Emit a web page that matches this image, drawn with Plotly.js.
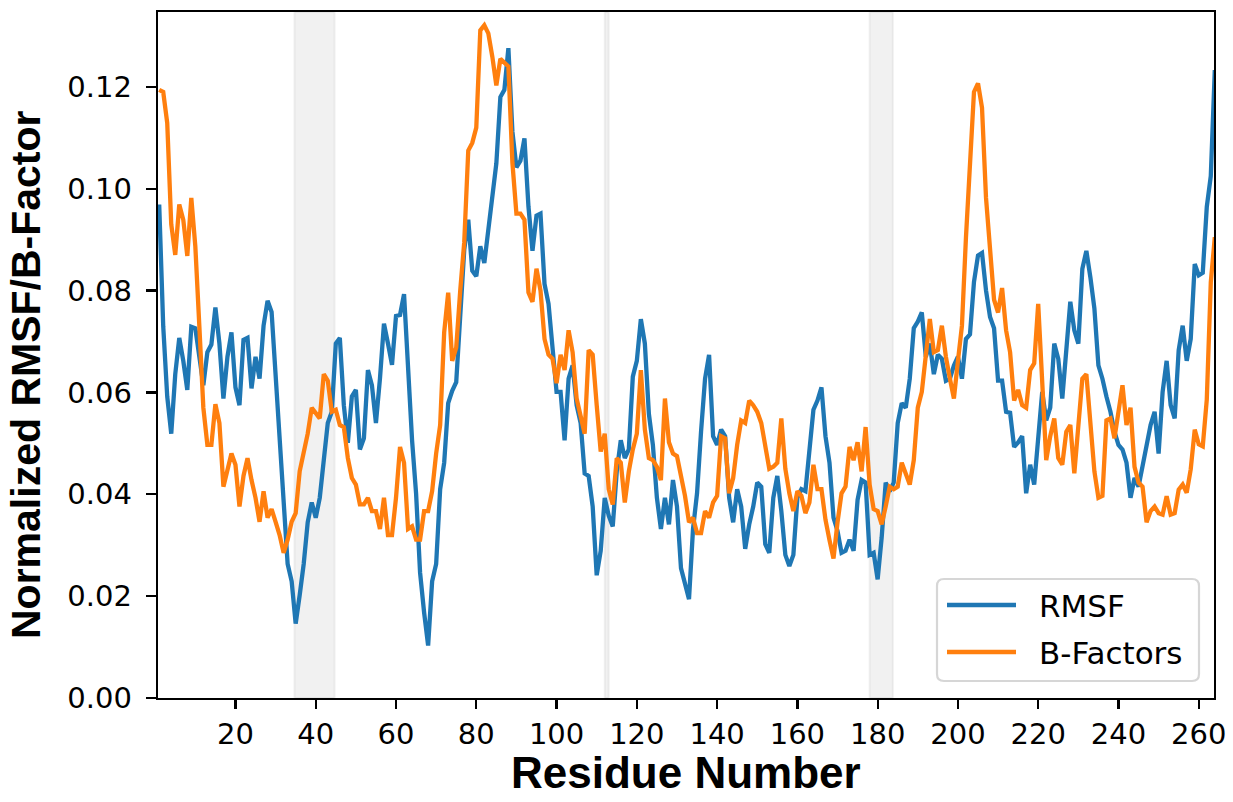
<!DOCTYPE html>
<html>
<head>
<meta charset="utf-8">
<script src="https://cdn.plot.ly/plotly-3.0.1.min.js"></script>
<style>html,body{margin:0;padding:0;background:#fff;}#chart{width:1233px;height:802px;}</style>
</head>
<body>
<div id="chart"></div>
<script>
// Residue numbers 1..264
const residues = Array.from({length: 264}, (_, i) => i + 1);

// Normalized RMSF (blue)
const rmsf = [
0.0969,0.073,0.0592,0.0519,0.0636,0.0707,0.0662,0.0605,0.0729,0.0726,
0.067,0.0614,0.0679,0.0694,0.0767,0.0696,0.0588,0.067,0.0718,0.061,
0.0575,0.0703,0.0707,0.0608,0.067,0.0627,0.0731,0.078,0.0758,0.0636,
0.0501,0.0367,0.0263,0.0229,0.0146,0.0202,0.0263,0.0345,0.0384,0.0354,
0.0393,0.0467,0.054,0.0562,0.0696,0.0707,0.0575,0.0501,0.0592,0.0605,
0.0488,0.051,0.0644,0.0614,0.054,0.0627,0.0735,0.0696,0.0654,0.075,
0.0752,0.0793,0.0644,0.0506,0.0402,0.0246,0.0168,0.0103,0.0229,0.0263,
0.041,0.0462,0.0579,0.0603,0.062,0.074,0.088,0.0939,0.0839,0.0828,
0.0887,0.0854,0.092,0.1,0.105,0.118,0.1194,0.1276,0.1112,0.1042,
0.1055,0.1099,0.0965,0.0878,0.0947,0.0951,0.0813,0.0774,0.0696,0.0601,
0.0601,0.0506,0.0627,0.0653,0.0575,0.054,0.0441,0.0436,0.0376,0.0241,
0.0289,0.0393,0.0358,0.0337,0.0445,0.0506,0.0471,0.0488,0.0631,0.0662,
0.0744,0.0696,0.0558,0.0497,0.0393,0.0332,0.0393,0.0341,0.0428,0.0376,
0.0255,0.022,0.0194,0.0332,0.0402,0.0523,0.0627,0.0674,0.0514,0.0497,
0.0527,0.0514,0.0393,0.0345,0.041,0.0376,0.0293,0.0341,0.0376,0.0423,
0.0415,0.0302,0.0285,0.0393,0.0436,0.0367,0.0281,0.0259,0.0281,0.0393,
0.041,0.0406,0.0488,0.0566,0.0584,0.061,0.0514,0.0462,0.0354,0.0328,
0.0285,0.0289,0.0311,0.0289,0.0389,0.0428,0.0423,0.0281,0.0285,0.0233,
0.0315,0.0423,0.0406,0.0423,0.054,0.0579,0.057,0.0627,0.0726,0.0739,
0.0757,0.067,0.0696,0.0636,0.0674,0.0666,0.0623,0.0627,0.0653,0.067,
0.0627,0.0705,0.0714,0.0817,0.0869,0.0874,0.08,0.0748,0.0726,0.0623,
0.0623,0.0562,0.056,0.0493,0.0502,0.0514,0.0402,0.0458,0.0419,0.0506,
0.0601,0.0545,0.057,0.0696,0.0666,0.0588,0.0688,0.0778,0.0722,0.0696,
0.0843,0.0878,0.0826,0.0765,0.0653,0.0627,0.0592,0.0562,0.0523,0.0497,
0.0488,0.0462,0.0393,0.0432,0.0415,0.0454,0.0497,0.0536,0.0562,0.048,
0.0601,0.0662,0.0575,0.0549,0.0683,0.0731,0.0662,0.0705,0.0852,0.083,
0.0835,0.0964,0.1025,0.1233
];

// Normalized B-factors (orange)
const bfactors = [
0.1194,0.119,0.1129,0.093,0.087,0.0969,0.0939,0.0868,0.0982,0.0887,
0.073,0.057,0.0497,0.0497,0.0577,0.054,0.0415,0.0445,0.048,0.0458,
0.0376,0.0436,0.0471,0.0428,0.0393,0.0346,0.0406,0.0354,0.0371,0.0346,
0.032,0.0285,0.0311,0.0346,0.0363,0.0445,0.048,0.0519,0.057,0.056,
0.0549,0.0636,0.0623,0.0562,0.0566,0.0536,0.0532,0.0471,0.0432,0.0419,
0.038,0.038,0.0393,0.0367,0.0367,0.0332,0.0393,0.032,0.032,0.0393,
0.0493,0.0462,0.0332,0.0337,0.0311,0.0311,0.0367,0.0367,0.0406,0.048,
0.0536,0.0718,0.0796,0.0662,0.0688,0.08,0.0895,0.1075,0.109,0.112,
0.1311,0.1321,0.1305,0.1259,0.1203,0.1255,0.1246,0.124,0.1051,0.0951,
0.0951,0.0939,0.0796,0.0778,0.0843,0.08,0.0705,0.0674,0.0666,0.0618,
0.0674,0.0644,0.0722,0.0679,0.0588,0.0549,0.0519,0.0683,0.0674,0.0575,
0.0484,0.0519,0.041,0.038,0.0471,0.0462,0.0384,0.0445,0.0488,0.0519,
0.0644,0.0527,0.0471,0.0467,0.0454,0.0428,0.0588,0.0502,0.048,0.0475,
0.0436,0.0397,0.0345,0.0354,0.0324,0.0324,0.0367,0.0354,0.0384,0.0397,
0.0514,0.051,0.0402,0.0432,0.0497,0.0545,0.054,0.0584,0.0575,0.0562,
0.054,0.0497,0.045,0.0454,0.0462,0.0549,0.045,0.0402,0.0367,0.0406,
0.0397,0.0363,0.0384,0.0458,0.041,0.041,0.035,0.031,0.0274,0.0345,
0.0402,0.0415,0.0493,0.0467,0.0502,0.0445,0.0532,0.0419,0.0371,0.0367,
0.0341,0.0376,0.0415,0.041,0.0415,0.0462,0.0441,0.0419,0.0467,0.057,
0.0601,0.0683,0.0744,0.0679,0.0683,0.0731,0.067,0.0627,0.0588,0.0662,
0.0731,0.0904,0.1064,0.119,0.1207,0.1159,0.0982,0.0882,0.0782,0.0757,
0.0805,0.0722,0.0679,0.0584,0.0605,0.0575,0.057,0.0644,0.0657,0.0774,
0.0636,0.0467,0.0514,0.0549,0.0471,0.0458,0.0523,0.0536,0.0441,0.0545,
0.0627,0.0636,0.0545,0.0445,0.0393,0.0397,0.0545,0.0549,0.051,0.057,
0.0614,0.0536,0.057,0.0454,0.0423,0.0415,0.0345,0.0367,0.0376,0.0363,
0.036,0.0396,0.036,0.0363,0.0409,0.0419,0.0403,0.0449,0.0527,0.0498,
0.0494,0.0586,0.0816,0.0905
];

const seriesNames = ['RMSF', 'B-Factors'];
const seriesColors = ['#1f77b4', '#ff7f0e'];

// Highlighted residue ranges (grey bands)
const bandStarts = [34.7, 112.0, 178.0];
const bandEnds   = [44.7, 113.0, 183.8];

const xTicks = [20,40,60,80,100,120,140,160,180,200,220,240,260];
const yTicks = [0,0.02,0.04,0.06,0.08,0.10,0.12];

// ---- geometry helpers (plot area in pixels) ----
const W = 1233, H = 802, L = 158, R = 19, T = 12, B = 104;
const PW = W - L - R, PH = H - T - B;
const px = v => (v - L) / PW;          // pixel x -> paper x
const py = v => (H - B - v) / PH;      // pixel y -> paper y

const tickFont = {family: 'DejaVu Sans, sans-serif', size: 29, color: '#000'};
const titleFontX = {family: 'Liberation Sans, Arial, sans-serif', size: 44, color: '#000', weight: 'bold'};
const titleFontY = {family: 'Liberation Sans, Arial, sans-serif', size: 41, color: '#000', weight: 'bold'};
const legendFont = {family: 'DejaVu Sans, sans-serif', size: 31, color: '#000'};

const traces = [
  {x: residues, y: rmsf, type: 'scatter', mode: 'lines', name: seriesNames[0],
   line: {color: seriesColors[0], width: 4.3}},
  {x: residues, y: bfactors, type: 'scatter', mode: 'lines', name: seriesNames[1],
   line: {color: seriesColors[1], width: 4.3}}
];

const shapes = bandStarts.map((s, i) => ({
  type: 'rect', xref: 'x', yref: 'paper', x0: s, x1: bandEnds[i], y0: 0, y1: 1,
  fillcolor: 'rgba(150,150,150,0.13)', line: {color: 'rgba(150,150,150,0.12)', width: 2},
  layer: 'below'
}));

// Legend box (rounded) drawn as a shape
const bx0 = px(937), bx1 = px(1199), by0 = py(681), by1 = py(579);
const rx = 7 / PW, ry = 7 / PH;
shapes.push({
  type: 'path', xref: 'paper', yref: 'paper',
  path: `M ${bx0+rx},${by0} L ${bx1-rx},${by0} Q ${bx1},${by0} ${bx1},${by0+ry} L ${bx1},${by1-ry} Q ${bx1},${by1} ${bx1-rx},${by1} L ${bx0+rx},${by1} Q ${bx0},${by1} ${bx0},${by1-ry} L ${bx0},${by0+ry} Q ${bx0},${by0} ${bx0+rx},${by0} Z`,
  fillcolor: 'rgba(255,255,255,0.9)', line: {color: '#d6d6d6', width: 2.2}, layer: 'above'
});
const legendRows = [605, 652];
const annotations = [];
seriesNames.forEach((n, i) => {
  shapes.push({type: 'line', xref: 'paper', yref: 'paper', x0: px(947), x1: px(1016),
    y0: py(legendRows[i]), y1: py(legendRows[i]), line: {color: seriesColors[i], width: 4.3}, layer: 'above'});
  annotations.push({text: n, xref: 'paper', yref: 'paper', x: px(1037), y: py(legendRows[i] + 1),
    xanchor: 'left', yanchor: 'middle', showarrow: false, font: legendFont});
});

annotations.push(
  {text: 'Residue Number', xref: 'paper', yref: 'paper', x: 0.5, y: py(772), xanchor: 'center', yanchor: 'middle',
   showarrow: false, font: titleFontX},
  {text: 'Normalized RMSF/B-Factor', xref: 'paper', yref: 'paper', x: px(26), y: py(375), xanchor: 'center', yanchor: 'middle',
   textangle: -90, showarrow: false, font: titleFontY}
);

const layout = {
  width: W, height: H,
  margin: {l: L, r: R, t: T, b: B},
  paper_bgcolor: '#fff', plot_bgcolor: '#fff',
  showlegend: false,
  xaxis: {range: [0.7, 263.8], tickvals: xTicks, ticks: 'outside', ticklen: 9, tickwidth: 2.3,
    tickcolor: '#000', showline: true, linecolor: '#000', linewidth: 2.3, mirror: true,
    showgrid: false, zeroline: false, tickfont: tickFont},
  yaxis: {range: [0, 0.1347], tickvals: yTicks, tickformat: '.2f', ticks: 'outside', ticklen: 10, tickwidth: 2.3,
    tickcolor: '#000', showline: true, linecolor: '#000', linewidth: 2.3, mirror: true,
    showgrid: false, zeroline: false, tickfont: tickFont, ticklabelstandoff: 8},
  shapes: shapes,
  annotations: annotations
};

Plotly.newPlot('chart', traces, layout, {displayModeBar: false, staticPlot: true});
</script>
</body>
</html>
